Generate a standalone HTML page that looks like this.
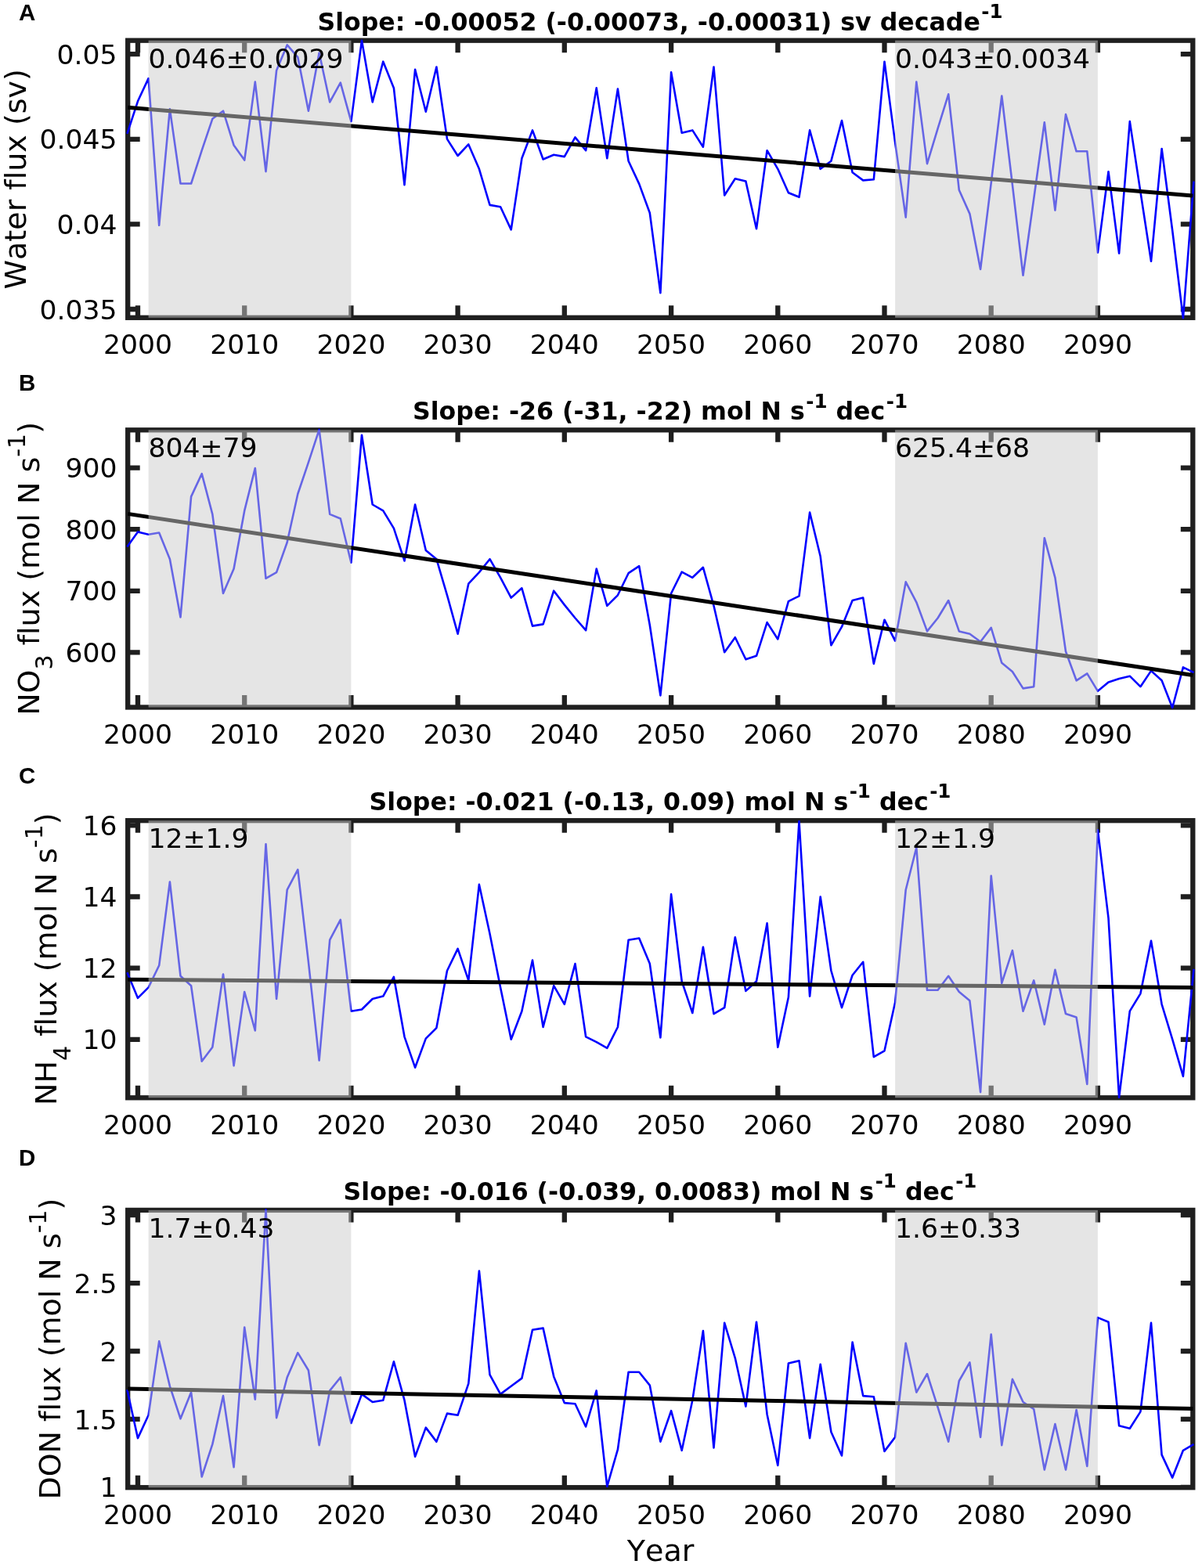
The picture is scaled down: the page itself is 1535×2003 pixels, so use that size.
<!DOCTYPE html><html><head><meta charset="utf-8"><title>Nitrogen flux time series</title><style>html,body{margin:0;padding:0;background:#fff;}svg{display:block;}</style></head><body>
<svg width="1535" height="2003" viewBox="0 0 1535 2003" font-family="DejaVu Sans, sans-serif" style="font-variant-ligatures:none;font-kerning:none">
<rect width="1535" height="2003" fill="#fff"/>
<g stroke="#1f1f1f" stroke-width="6.3" fill="none">
<rect x="163.2" y="51.7" width="1360.1" height="354.1"/>
<path d="M176.0,405.8V390.3M176.0,51.7V67.2"/>
<path d="M312.2,405.8V390.3M312.2,51.7V67.2"/>
<path d="M448.4,405.8V390.3M448.4,51.7V67.2"/>
<path d="M584.6,405.8V390.3M584.6,51.7V67.2"/>
<path d="M720.8,405.8V390.3M720.8,51.7V67.2"/>
<path d="M857.1,405.8V390.3M857.1,51.7V67.2"/>
<path d="M993.3,405.8V390.3M993.3,51.7V67.2"/>
<path d="M1129.5,405.8V390.3M1129.5,51.7V67.2"/>
<path d="M1265.7,405.8V390.3M1265.7,51.7V67.2"/>
<path d="M1401.9,405.8V390.3M1401.9,51.7V67.2"/>
<path d="M163.2,69.2H178.7M1523.3,69.2H1507.8"/>
<path d="M163.2,177.8H178.7M1523.3,177.8H1507.8"/>
<path d="M163.2,286.4H178.7M1523.3,286.4H1507.8"/>
<path d="M163.2,395.0H178.7M1523.3,395.0H1507.8"/>
</g>
<polyline points="162.4,170.9 176.0,129.3 189.6,100.1 203.2,287.8 216.9,139.4 230.5,234.5 244.1,234.5 257.7,192.2 271.3,151.8 285.0,141.7 298.6,185.5 312.2,204.6 325.8,104.6 339.5,219.2 353.1,90.0 366.7,57.4 380.3,73.1 393.9,141.7 407.6,67.5 421.2,130.4 434.8,105.7 448.4,155.1 462.0,51.7 475.7,130.4 489.3,78.7 502.9,112.4 516.5,236.1 530.1,88.8 543.8,142.8 557.4,85.5 571.0,177.6 584.6,199.0 598.3,184.4 611.9,215.8 625.5,261.9 639.1,264.2 652.7,293.4 666.4,202.3 680.0,166.4 693.6,203.5 707.2,197.8 720.8,200.1 734.5,175.4 748.1,192.2 761.7,112.4 775.3,202.3 788.9,113.6 802.6,205.7 816.2,234.9 829.8,272.0 843.4,374.3 857.1,92.2 870.7,169.7 884.3,166.4 897.9,187.7 911.5,85.5 925.2,249.5 938.8,228.2 952.4,231.6 966.0,292.2 979.6,192.2 993.3,215.8 1006.9,246.2 1020.5,251.8 1034.1,166.4 1047.7,215.8 1061.4,205.7 1075.0,154.0 1088.6,220.3 1102.2,230.4 1115.8,229.3 1129.5,78.7 1143.1,182.1 1156.7,277.6 1170.3,104.6 1184.0,209.1 1197.6,164.1 1211.2,120.3 1224.8,242.8 1238.4,273.1 1252.1,343.9 1265.7,233.8 1279.3,122.5 1292.9,236.1 1306.5,351.8 1320.2,254.0 1333.8,156.3 1347.4,268.6 1361.0,146.1 1374.6,193.3 1388.3,193.3 1401.9,322.6 1415.5,219.2 1429.1,323.7 1442.8,155.1 1456.4,245.0 1470.0,333.8 1483.6,190.0 1497.2,294.5 1510.9,406.3 1524.5,231.6" fill="none" stroke="#0000ff" stroke-width="2.6" stroke-linejoin="round"/>
<line x1="163.2" y1="137.2" x2="1523.3" y2="250.0" stroke="#000" stroke-width="5.0"/>
<rect x="189.6" y="51.7" width="258.8" height="354.1" fill="#cccccc" fill-opacity="0.5"/>
<rect x="1143.1" y="51.7" width="258.8" height="354.1" fill="#cccccc" fill-opacity="0.5"/>
<text x="189.6" y="86.6" font-size="34.6">0.046±0.0029</text>
<text x="1143.1" y="86.6" font-size="34.6">0.043±0.0034</text>
<text x="176.0" y="452.1" font-size="34.6" text-anchor="middle">2000</text>
<text x="312.2" y="452.1" font-size="34.6" text-anchor="middle">2010</text>
<text x="448.4" y="452.1" font-size="34.6" text-anchor="middle">2020</text>
<text x="584.6" y="452.1" font-size="34.6" text-anchor="middle">2030</text>
<text x="720.8" y="452.1" font-size="34.6" text-anchor="middle">2040</text>
<text x="857.1" y="452.1" font-size="34.6" text-anchor="middle">2050</text>
<text x="993.3" y="452.1" font-size="34.6" text-anchor="middle">2060</text>
<text x="1129.5" y="452.1" font-size="34.6" text-anchor="middle">2070</text>
<text x="1265.7" y="452.1" font-size="34.6" text-anchor="middle">2080</text>
<text x="1401.9" y="452.1" font-size="34.6" text-anchor="middle">2090</text>
<text x="149.5" y="81.8" font-size="34.6" text-anchor="end">0.05</text>
<text x="149.5" y="190.4" font-size="34.6" text-anchor="end">0.045</text>
<text x="149.5" y="299.0" font-size="34.6" text-anchor="end">0.04</text>
<text x="149.5" y="407.6" font-size="34.6" text-anchor="end">0.035</text>
<text transform="translate(32.9,228.8) rotate(-90)" font-size="38" text-anchor="middle">Water flux (sv)</text>
<text x="843" y="38.6" font-size="31.6" font-weight="bold" text-anchor="middle">Slope: -0.00052 (-0.00073, -0.00031) sv decade<tspan dx="1.5" dy="-15.7" font-size="24.5">-1</tspan></text>
<text x="24" y="25.8" font-family="Liberation Sans, Arial, sans-serif" font-weight="bold" font-size="29.5">A</text>
<g stroke="#1f1f1f" stroke-width="6.3" fill="none">
<rect x="163.2" y="549.3" width="1360.1" height="354.2"/>
<path d="M176.0,903.5V888.0M176.0,549.3V564.8"/>
<path d="M312.2,903.5V888.0M312.2,549.3V564.8"/>
<path d="M448.4,903.5V888.0M448.4,549.3V564.8"/>
<path d="M584.6,903.5V888.0M584.6,549.3V564.8"/>
<path d="M720.8,903.5V888.0M720.8,549.3V564.8"/>
<path d="M857.1,903.5V888.0M857.1,549.3V564.8"/>
<path d="M993.3,903.5V888.0M993.3,549.3V564.8"/>
<path d="M1129.5,903.5V888.0M1129.5,549.3V564.8"/>
<path d="M1265.7,903.5V888.0M1265.7,549.3V564.8"/>
<path d="M1401.9,903.5V888.0M1401.9,549.3V564.8"/>
<path d="M163.2,597.6H178.7M1523.3,597.6H1507.8"/>
<path d="M163.2,676.2H178.7M1523.3,676.2H1507.8"/>
<path d="M163.2,754.8H178.7M1523.3,754.8H1507.8"/>
<path d="M163.2,833.4H178.7M1523.3,833.4H1507.8"/>
</g>
<polyline points="162.4,698.5 176.0,679.4 189.6,682.7 203.2,680.5 216.9,714.2 230.5,788.4 244.1,634.4 257.7,605.2 271.3,656.9 285.0,758.0 298.6,726.6 312.2,652.4 325.8,598.0 339.5,738.9 353.1,731.1 366.7,692.8 380.3,631.0 393.9,590.6 407.6,548.8 421.2,656.9 434.8,662.5 448.4,718.7 462.0,555.7 475.7,644.5 489.3,652.4 502.9,674.9 516.5,716.4 530.1,644.5 543.8,703.0 557.4,714.2 571.0,760.3 584.6,809.7 598.3,745.7 611.9,731.1 625.5,714.2 639.1,737.8 652.7,763.6 666.4,751.3 680.0,799.6 693.6,797.4 707.2,754.7 720.8,772.6 734.5,789.5 748.1,805.2 761.7,726.6 775.3,773.8 788.9,760.3 802.6,732.2 816.2,723.2 829.8,798.5 843.4,888.4 857.1,758.0 870.7,730.6 884.3,737.8 897.9,724.8 911.5,773.8 925.2,833.3 938.8,814.2 952.4,842.3 966.0,837.8 979.6,795.1 993.3,816.5 1006.9,768.1 1020.5,761.4 1034.1,654.6 1047.7,710.8 1061.4,824.3 1075.0,800.7 1088.6,767.0 1102.2,763.6 1115.8,847.9 1129.5,791.7 1143.1,818.7 1156.7,743.4 1170.3,769.3 1184.0,806.4 1197.6,789.5 1211.2,767.0 1224.8,806.4 1238.4,809.7 1252.1,819.8 1265.7,801.9 1279.3,846.8 1292.9,858.0 1306.5,879.4 1320.2,877.2 1333.8,687.2 1347.4,737.8 1361.0,832.2 1374.6,869.3 1388.3,860.3 1401.9,882.8 1415.5,871.5 1429.1,867.0 1442.8,863.7 1456.4,877.2 1470.0,856.9 1483.6,869.3 1497.2,904.0 1510.9,852.4 1524.5,859.2" fill="none" stroke="#0000ff" stroke-width="2.6" stroke-linejoin="round"/>
<line x1="163.2" y1="656.4" x2="1523.3" y2="862.5" stroke="#000" stroke-width="5.0"/>
<rect x="189.6" y="549.3" width="258.8" height="354.2" fill="#cccccc" fill-opacity="0.5"/>
<rect x="1143.1" y="549.3" width="258.8" height="354.2" fill="#cccccc" fill-opacity="0.5"/>
<text x="189.6" y="584.2" font-size="34.6">804±79</text>
<text x="1143.1" y="584.2" font-size="34.6">625.4±68</text>
<text x="176.0" y="949.8" font-size="34.6" text-anchor="middle">2000</text>
<text x="312.2" y="949.8" font-size="34.6" text-anchor="middle">2010</text>
<text x="448.4" y="949.8" font-size="34.6" text-anchor="middle">2020</text>
<text x="584.6" y="949.8" font-size="34.6" text-anchor="middle">2030</text>
<text x="720.8" y="949.8" font-size="34.6" text-anchor="middle">2040</text>
<text x="857.1" y="949.8" font-size="34.6" text-anchor="middle">2050</text>
<text x="993.3" y="949.8" font-size="34.6" text-anchor="middle">2060</text>
<text x="1129.5" y="949.8" font-size="34.6" text-anchor="middle">2070</text>
<text x="1265.7" y="949.8" font-size="34.6" text-anchor="middle">2080</text>
<text x="1401.9" y="949.8" font-size="34.6" text-anchor="middle">2090</text>
<text x="149.5" y="610.2" font-size="34.6" text-anchor="end">900</text>
<text x="149.5" y="688.8" font-size="34.6" text-anchor="end">800</text>
<text x="149.5" y="767.4" font-size="34.6" text-anchor="end">700</text>
<text x="149.5" y="846.0" font-size="34.6" text-anchor="end">600</text>
<text transform="translate(49.6,726.4) rotate(-90)" font-size="38" text-anchor="middle">NO<tspan dy="17.8" font-size="30">3</tspan><tspan dy="-17.8"> flux (mol N s</tspan><tspan dy="-18.1" font-size="30">-1</tspan><tspan dy="18.1">)</tspan></text>
<text x="843" y="536.2" font-size="31.6" font-weight="bold" text-anchor="middle">Slope: -26 (-31, -22) mol N s<tspan dx="1.5" dy="-15.7" font-size="24.5">-1</tspan><tspan dy="15.7"> dec</tspan><tspan dx="1.5" dy="-15.7" font-size="24.5">-1</tspan></text>
<text x="24" y="499.3" font-family="Liberation Sans, Arial, sans-serif" font-weight="bold" font-size="29.5">B</text>
<g stroke="#1f1f1f" stroke-width="6.3" fill="none">
<rect x="163.2" y="1048.2" width="1360.1" height="354.1"/>
<path d="M176.0,1402.3V1386.8M176.0,1048.2V1063.7"/>
<path d="M312.2,1402.3V1386.8M312.2,1048.2V1063.7"/>
<path d="M448.4,1402.3V1386.8M448.4,1048.2V1063.7"/>
<path d="M584.6,1402.3V1386.8M584.6,1048.2V1063.7"/>
<path d="M720.8,1402.3V1386.8M720.8,1048.2V1063.7"/>
<path d="M857.1,1402.3V1386.8M857.1,1048.2V1063.7"/>
<path d="M993.3,1402.3V1386.8M993.3,1048.2V1063.7"/>
<path d="M1129.5,1402.3V1386.8M1129.5,1048.2V1063.7"/>
<path d="M1265.7,1402.3V1386.8M1265.7,1048.2V1063.7"/>
<path d="M1401.9,1402.3V1386.8M1401.9,1048.2V1063.7"/>
<path d="M163.2,1054.3H178.7M1523.3,1054.3H1507.8"/>
<path d="M163.2,1145.5H178.7M1523.3,1145.5H1507.8"/>
<path d="M163.2,1236.6H178.7M1523.3,1236.6H1507.8"/>
<path d="M163.2,1327.8H178.7M1523.3,1327.8H1507.8"/>
</g>
<polyline points="162.4,1242.3 176.0,1274.9 189.6,1261.4 203.2,1233.3 216.9,1126.5 230.5,1246.8 244.1,1259.2 257.7,1355.8 271.3,1337.8 285.0,1244.5 298.6,1361.4 312.2,1267.0 325.8,1316.5 339.5,1078.2 353.1,1276.0 366.7,1136.7 380.3,1110.8 393.9,1228.8 407.6,1354.7 421.2,1200.7 434.8,1174.9 448.4,1291.7 462.0,1289.5 475.7,1276.0 489.3,1272.6 502.9,1247.9 516.5,1324.3 530.1,1363.7 543.8,1326.6 557.4,1313.1 571.0,1240.0 584.6,1211.9 598.3,1252.4 611.9,1129.9 625.5,1192.8 639.1,1261.4 652.7,1327.7 666.4,1291.7 680.0,1226.6 693.6,1312.0 707.2,1259.2 720.8,1282.8 734.5,1231.1 748.1,1324.3 761.7,1331.1 775.3,1338.9 788.9,1312.0 802.6,1200.7 816.2,1198.5 829.8,1231.1 843.4,1325.5 857.1,1142.3 870.7,1253.5 884.3,1294.0 897.9,1209.7 911.5,1295.1 925.2,1287.2 938.8,1197.3 952.4,1265.9 966.0,1253.5 979.6,1179.4 993.3,1337.8 1006.9,1273.8 1020.5,1049.0 1034.1,1272.6 1047.7,1145.6 1061.4,1240.0 1075.0,1287.2 1088.6,1245.7 1102.2,1228.8 1115.8,1350.2 1129.5,1342.3 1143.1,1280.5 1156.7,1136.7 1170.3,1082.7 1184.0,1264.8 1197.6,1264.8 1211.2,1246.8 1224.8,1267.0 1238.4,1278.3 1252.1,1395.1 1265.7,1118.7 1279.3,1255.8 1292.9,1214.2 1306.5,1291.7 1320.2,1252.4 1333.8,1308.6 1347.4,1238.9 1361.0,1295.1 1374.6,1299.6 1388.3,1385.0 1401.9,1060.2 1415.5,1172.6 1429.1,1401.9 1442.8,1291.7 1456.4,1269.3 1470.0,1201.8 1483.6,1282.8 1497.2,1327.7 1510.9,1374.9 1524.5,1237.8" fill="none" stroke="#0000ff" stroke-width="2.6" stroke-linejoin="round"/>
<line x1="163.2" y1="1251.3" x2="1523.3" y2="1261.4" stroke="#000" stroke-width="5.0"/>
<rect x="189.6" y="1048.2" width="258.8" height="354.1" fill="#cccccc" fill-opacity="0.5"/>
<rect x="1143.1" y="1048.2" width="258.8" height="354.1" fill="#cccccc" fill-opacity="0.5"/>
<text x="189.6" y="1083.1" font-size="34.6">12±1.9</text>
<text x="1143.1" y="1083.1" font-size="34.6">12±1.9</text>
<text x="176.0" y="1448.6" font-size="34.6" text-anchor="middle">2000</text>
<text x="312.2" y="1448.6" font-size="34.6" text-anchor="middle">2010</text>
<text x="448.4" y="1448.6" font-size="34.6" text-anchor="middle">2020</text>
<text x="584.6" y="1448.6" font-size="34.6" text-anchor="middle">2030</text>
<text x="720.8" y="1448.6" font-size="34.6" text-anchor="middle">2040</text>
<text x="857.1" y="1448.6" font-size="34.6" text-anchor="middle">2050</text>
<text x="993.3" y="1448.6" font-size="34.6" text-anchor="middle">2060</text>
<text x="1129.5" y="1448.6" font-size="34.6" text-anchor="middle">2070</text>
<text x="1265.7" y="1448.6" font-size="34.6" text-anchor="middle">2080</text>
<text x="1401.9" y="1448.6" font-size="34.6" text-anchor="middle">2090</text>
<text x="149.5" y="1066.9" font-size="34.6" text-anchor="end">16</text>
<text x="149.5" y="1158.1" font-size="34.6" text-anchor="end">14</text>
<text x="149.5" y="1249.2" font-size="34.6" text-anchor="end">12</text>
<text x="149.5" y="1340.4" font-size="34.6" text-anchor="end">10</text>
<text transform="translate(71.7,1225.2) rotate(-90)" font-size="38" text-anchor="middle">NH<tspan dy="17.8" font-size="30">4</tspan><tspan dy="-17.8"> flux (mol N s</tspan><tspan dy="-18.1" font-size="30">-1</tspan><tspan dy="18.1">)</tspan></text>
<text x="843" y="1035.1" font-size="31.6" font-weight="bold" text-anchor="middle">Slope: -0.021 (-0.13, 0.09) mol N s<tspan dx="1.5" dy="-15.7" font-size="24.5">-1</tspan><tspan dy="15.7"> dec</tspan><tspan dx="1.5" dy="-15.7" font-size="24.5">-1</tspan></text>
<text x="24" y="1001" font-family="Liberation Sans, Arial, sans-serif" font-weight="bold" font-size="29.5">C</text>
<g stroke="#1f1f1f" stroke-width="6.3" fill="none">
<rect x="163.2" y="1545.9" width="1360.1" height="354.3"/>
<path d="M176.0,1900.2V1884.7M176.0,1545.9V1561.4"/>
<path d="M312.2,1900.2V1884.7M312.2,1545.9V1561.4"/>
<path d="M448.4,1900.2V1884.7M448.4,1545.9V1561.4"/>
<path d="M584.6,1900.2V1884.7M584.6,1545.9V1561.4"/>
<path d="M720.8,1900.2V1884.7M720.8,1545.9V1561.4"/>
<path d="M857.1,1900.2V1884.7M857.1,1545.9V1561.4"/>
<path d="M993.3,1900.2V1884.7M993.3,1545.9V1561.4"/>
<path d="M1129.5,1900.2V1884.7M1129.5,1545.9V1561.4"/>
<path d="M1265.7,1900.2V1884.7M1265.7,1545.9V1561.4"/>
<path d="M1401.9,1900.2V1884.7M1401.9,1545.9V1561.4"/>
<path d="M163.2,1552.2H178.7M1523.3,1552.2H1507.8"/>
<path d="M163.2,1639.1H178.7M1523.3,1639.1H1507.8"/>
<path d="M163.2,1726.0H178.7M1523.3,1726.0H1507.8"/>
<path d="M163.2,1812.9H178.7M1523.3,1812.9H1507.8"/>
<path d="M163.2,1899.8H178.7M1523.3,1899.8H1507.8"/>
</g>
<polyline points="162.4,1775.3 176.0,1837.1 189.6,1807.8 203.2,1713.4 216.9,1770.8 230.5,1812.3 244.1,1778.6 257.7,1886.5 271.3,1844.9 285.0,1783.1 298.6,1874.2 312.2,1695.5 325.8,1787.6 339.5,1545.4 353.1,1811.2 366.7,1759.5 380.3,1728.1 393.9,1750.5 407.6,1846.1 421.2,1776.4 434.8,1759.5 448.4,1818.0 462.0,1780.9 475.7,1791.0 489.3,1788.7 502.9,1739.3 516.5,1788.7 530.1,1860.7 543.8,1823.6 557.4,1841.6 571.0,1805.6 584.6,1807.8 598.3,1767.4 611.9,1623.5 625.5,1756.2 639.1,1780.9 652.7,1770.8 666.4,1760.6 680.0,1698.8 693.6,1696.6 707.2,1758.4 720.8,1792.1 734.5,1793.2 748.1,1822.5 761.7,1776.4 775.3,1898.9 788.9,1851.7 802.6,1752.8 816.2,1752.8 829.8,1769.6 843.4,1841.6 857.1,1802.2 870.7,1852.8 884.3,1788.7 897.9,1700.0 911.5,1849.4 925.2,1689.8 938.8,1734.8 952.4,1796.6 966.0,1688.7 979.6,1806.7 993.3,1871.9 1006.9,1741.5 1020.5,1738.2 1034.1,1837.1 1047.7,1742.7 1061.4,1829.2 1075.0,1859.5 1088.6,1714.6 1102.2,1783.1 1115.8,1784.2 1129.5,1853.9 1143.1,1835.9 1156.7,1715.7 1170.3,1778.6 1184.0,1755.0 1197.6,1797.7 1211.2,1841.6 1224.8,1764.0 1238.4,1740.4 1252.1,1835.9 1265.7,1704.5 1279.3,1846.1 1292.9,1761.8 1306.5,1791.0 1320.2,1800.0 1333.8,1877.5 1347.4,1819.1 1361.0,1877.5 1374.6,1801.1 1388.3,1873.0 1401.9,1683.1 1415.5,1688.7 1429.1,1821.3 1442.8,1824.7 1456.4,1803.4 1470.0,1689.8 1483.6,1858.4 1497.2,1887.6 1510.9,1852.8 1524.5,1844.9" fill="none" stroke="#0000ff" stroke-width="2.6" stroke-linejoin="round"/>
<line x1="163.2" y1="1774.1" x2="1523.3" y2="1799.5" stroke="#000" stroke-width="5.0"/>
<rect x="189.6" y="1545.9" width="258.8" height="354.3" fill="#cccccc" fill-opacity="0.5"/>
<rect x="1143.1" y="1545.9" width="258.8" height="354.3" fill="#cccccc" fill-opacity="0.5"/>
<text x="189.6" y="1580.8" font-size="34.6">1.7±0.43</text>
<text x="1143.1" y="1580.8" font-size="34.6">1.6±0.33</text>
<text x="176.0" y="1946.5" font-size="34.6" text-anchor="middle">2000</text>
<text x="312.2" y="1946.5" font-size="34.6" text-anchor="middle">2010</text>
<text x="448.4" y="1946.5" font-size="34.6" text-anchor="middle">2020</text>
<text x="584.6" y="1946.5" font-size="34.6" text-anchor="middle">2030</text>
<text x="720.8" y="1946.5" font-size="34.6" text-anchor="middle">2040</text>
<text x="857.1" y="1946.5" font-size="34.6" text-anchor="middle">2050</text>
<text x="993.3" y="1946.5" font-size="34.6" text-anchor="middle">2060</text>
<text x="1129.5" y="1946.5" font-size="34.6" text-anchor="middle">2070</text>
<text x="1265.7" y="1946.5" font-size="34.6" text-anchor="middle">2080</text>
<text x="1401.9" y="1946.5" font-size="34.6" text-anchor="middle">2090</text>
<text x="149.5" y="1564.8" font-size="34.6" text-anchor="end">3</text>
<text x="149.5" y="1651.7" font-size="34.6" text-anchor="end">2.5</text>
<text x="149.5" y="1738.6" font-size="34.6" text-anchor="end">2</text>
<text x="149.5" y="1825.5" font-size="34.6" text-anchor="end">1.5</text>
<text x="149.5" y="1912.4" font-size="34.6" text-anchor="end">1</text>
<text transform="translate(76.7,1723.1) rotate(-90)" font-size="38" text-anchor="middle">DON flux (mol N s<tspan dy="-18.1" font-size="30">-1</tspan><tspan dy="18.1">)</tspan></text>
<text x="843" y="1532.8" font-size="31.6" font-weight="bold" text-anchor="middle">Slope: -0.016 (-0.039, 0.0083) mol N s<tspan dx="1.5" dy="-15.7" font-size="24.5">-1</tspan><tspan dy="15.7"> dec</tspan><tspan dx="1.5" dy="-15.7" font-size="24.5">-1</tspan></text>
<text x="24" y="1488.8" font-family="Liberation Sans, Arial, sans-serif" font-weight="bold" font-size="29.5">D</text>
<text x="843.6" y="1993.6" font-size="38" text-anchor="middle">Year</text>
</svg></body></html>
